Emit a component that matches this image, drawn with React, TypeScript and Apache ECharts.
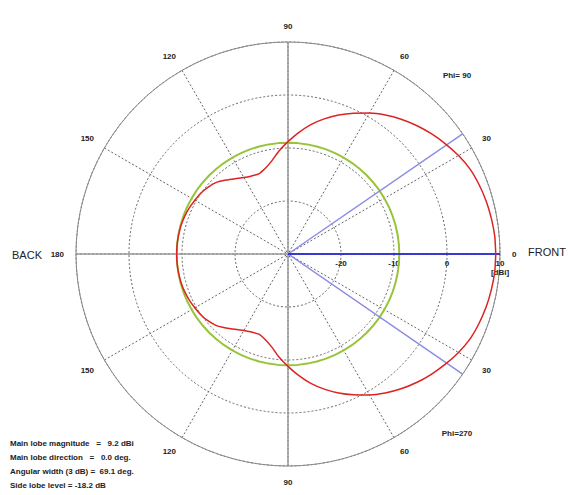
import React, { useEffect, useRef } from "react";
import * as echarts from "echarts";

// Pattern angles (deg) and gain (dBi)
const ANGLES = [
  0, 5, 10, 15, 20, 25, 30, 35, 40, 45, 50, 55, 60, 65, 70, 75, 80, 85, 90,
  95, 100, 105, 110, 115, 120, 125, 130, 135, 140, 145, 150, 155, 160, 165, 170, 175, 180,
  185, 190, 195, 200, 205, 210, 215, 220, 225, 230, 235, 240, 245, 250, 255, 260, 265, 270,
  275, 280, 285, 290, 295, 300, 305, 310, 315, 320, 325, 330, 335, 340, 345, 350, 355, 360,
];
const GAIN_DB = [
  9.2, 9.15, 8.95, 8.7, 8.35, 7.9, 7.15, 6.25, 5.3, 4.3, 3.2, 2.0, 0.7, -0.7, -2.1, -3.6, -5.2, -7.0, -8.8,
  -10.5, -12.2, -13.3, -13.9, -13.75, -13.35, -12.65, -11.8, -10.9, -10.35, -9.95, -9.7, -9.45, -9.25, -9.12, -9.05, -9.0, -9.0,
  -9.0, -9.05, -9.12, -9.25, -9.45, -9.7, -9.95, -10.35, -10.9, -11.8, -12.65, -13.35, -13.75, -13.9, -13.3, -12.2, -10.5, -8.8,
  -7.0, -5.2, -3.6, -2.1, -0.7, 0.7, 2.0, 3.2, 4.3, 5.3, 6.25, 7.15, 7.9, 8.35, 8.7, 8.95, 9.15, 9.2,
];

// Axes
const RADIUS_MIN = -30;
const RADIUS_MAX = 10;
const RADIUS_STEP = 10;
const ANGLE_STEP = 30;
const AXIS_STEP = 90;

// Summary figures
const MAIN_LOBE_MAGNITUDE = 9.2;
const MAIN_LOBE_DIRECTION = 0.0;
const ANGULAR_WIDTH_3DB = 69.1;
const SIDE_LOBE_LEVEL = -18.2;

const INFO_LINES = [
  `Main lobe magnitude   =   ${MAIN_LOBE_MAGNITUDE.toFixed(1)} dBi`,
  `Main lobe direction   =   ${MAIN_LOBE_DIRECTION.toFixed(1)} deg.`,
  `Angular width (3 dB) =  ${ANGULAR_WIDTH_3DB.toFixed(1)} deg.`,
  `Side lobe level = ${SIDE_LOBE_LEVEL.toFixed(1)} dB`,
];

const CENTER: [number, number] = [288, 254];
const RADIUS = 212;
const SMALL_FONT = 'bold 8px "Liberation Sans", Arial, sans-serif';

export default function App() {
  const ref = useRef<HTMLDivElement>(null);

  useEffect(() => {
    if (!ref.current) return;
    const chart = echarts.init(ref.current, undefined, { renderer: "svg" });

    const sideLobeRing = MAIN_LOBE_MAGNITUDE + SIDE_LOBE_LEVEL;
    const half = ANGULAR_WIDTH_3DB / 2;

    const option: any = {
      animation: false,
      backgroundColor: "#ffffff",
      polar: [
        { center: CENTER, radius: RADIUS },
        { center: CENTER, radius: RADIUS },
      ],
      angleAxis: [
        {
          polarIndex: 0,
          type: "value",
          min: 0,
          max: 360,
          interval: ANGLE_STEP,
          startAngle: 0,
          clockwise: false,
          axisLine: { show: true, lineStyle: { color: "#8a8a8a", width: 1 } },
          axisTick: { show: false },
          axisLabel: {
            show: true,
            margin: 12,
            color: "#222",
            fontSize: 8,
            fontWeight: "bold",
            fontFamily: '"Liberation Sans", Arial, sans-serif',
            formatter: (v: number) => String(v <= 180 ? v : 360 - v),
          },
          splitLine: { show: true, lineStyle: { color: "#666", width: 1, type: [2, 2] } },
          z: 1,
        },
        {
          polarIndex: 1,
          type: "value",
          min: 0,
          max: 360,
          interval: AXIS_STEP,
          startAngle: 0,
          clockwise: false,
          axisLine: { show: false },
          axisTick: { show: false },
          axisLabel: { show: false },
          splitLine: { show: true, lineStyle: { color: "#9a9a9a", width: 1.5, type: "solid" } },
          z: 2,
        },
      ],
      radiusAxis: [
        {
          polarIndex: 0,
          type: "value",
          min: RADIUS_MIN,
          max: RADIUS_MAX,
          interval: RADIUS_STEP,
          axisLine: { show: false },
          axisTick: { show: false },
          axisLabel: {
            show: true,
            margin: -5,
            verticalAlign: "top",
            align: "center",
            color: "#222",
            fontSize: 8,
            fontWeight: "bold",
            fontFamily: '"Liberation Sans", Arial, sans-serif',
            lineHeight: 9,
            formatter: (v: number) =>
              v === RADIUS_MIN ? "" : v === RADIUS_MAX ? `${v}\n[dBi]` : String(v),
          },
          splitLine: { show: true, lineStyle: { color: "#666", width: 1, type: [2, 2] } },
          z: 1,
        },
        {
          polarIndex: 1,
          type: "value",
          min: RADIUS_MIN,
          max: RADIUS_MAX,
          show: false,
        },
      ],
      series: [
        {
          name: "side lobe level",
          type: "line",
          coordinateSystem: "polar",
          polarIndex: 0,
          data: ANGLES.map((a) => [sideLobeRing, a]),
          showSymbol: false,
          lineStyle: { color: "#99c43a", width: 2 },
          z: 3,
        },
        {
          name: "3 dB width",
          type: "line",
          coordinateSystem: "polar",
          polarIndex: 0,
          data: [
            [RADIUS_MAX, MAIN_LOBE_DIRECTION + half],
            [RADIUS_MIN, MAIN_LOBE_DIRECTION + half],
            [RADIUS_MIN, 360 + MAIN_LOBE_DIRECTION - half],
            [RADIUS_MAX, 360 + MAIN_LOBE_DIRECTION - half],
          ],
          showSymbol: false,
          lineStyle: { color: "#8c8ce6", width: 1.5 },
          z: 4,
        },
        {
          name: "main lobe direction",
          type: "line",
          coordinateSystem: "polar",
          polarIndex: 0,
          data: [
            [RADIUS_MIN, MAIN_LOBE_DIRECTION],
            [RADIUS_MAX, MAIN_LOBE_DIRECTION],
          ],
          showSymbol: false,
          lineStyle: { color: "#1414e0", width: 1.5 },
          z: 5,
        },
        {
          name: "pattern",
          type: "line",
          coordinateSystem: "polar",
          polarIndex: 0,
          data: GAIN_DB.map((g, i) => [g, ANGLES[i]]),
          showSymbol: false,
          smooth: 0.2,
          lineStyle: { color: "#dd2222", width: 1.5 },
          z: 6,
        },
      ],
      graphic: [
        { type: "text", x: 27, y: 255, style: { text: "BACK", fill: "#222", font: '11px "Liberation Sans", Arial, sans-serif', textAlign: "center", textVerticalAlign: "middle" } },
        { type: "text", x: 547, y: 252, style: { text: "FRONT", fill: "#222", font: '11px "Liberation Sans", Arial, sans-serif', textAlign: "center", textVerticalAlign: "middle" } },
        { type: "text", x: 457, y: 75, style: { text: "Phi= 90", fill: "#222", font: SMALL_FONT, textAlign: "center", textVerticalAlign: "middle" } },
        { type: "text", x: 457, y: 433, style: { text: "Phi=270", fill: "#222", font: SMALL_FONT, textAlign: "center", textVerticalAlign: "middle" } },
        ...INFO_LINES.map((t, i) => ({
          type: "text",
          x: 10,
          y: 443 + i * 14,
          style: { text: t, fill: "#222", font: SMALL_FONT, textAlign: "left", textVerticalAlign: "middle" },
        })),
      ],
    };

    chart.setOption(option);
    return () => chart.dispose();
  }, []);

  return (
    <div
      ref={ref}
      style={{ position: "absolute", left: 0, top: 0, width: 568, height: 495 }}
    />
  );
}
